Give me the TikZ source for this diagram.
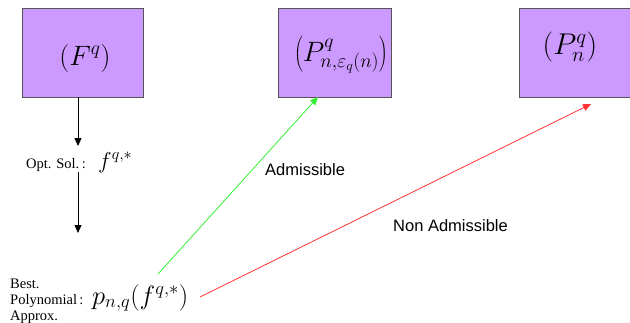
\documentclass[tikz,border=0pt]{standalone}
\usepackage{fix-cm}
\usepackage{fontspec}
\setmainfont{Liberation Serif}
\newfontfamily\arialfont{Liberation Sans}
\usetikzlibrary{arrows.meta}
\definecolor{boxfill}{HTML}{CC99FF}
\definecolor{boxline}{HTML}{555555}
\definecolor{admgreen}{HTML}{33EE33}
\definecolor{admred}{HTML}{FF3333}
\tikzset{
  probbox/.style={draw=boxline, line width=1pt, fill=boxfill},
  mathbig/.style={inner sep=0pt, font=\fontsize{28}{32}\selectfont},
  lbl/.style={inner sep=0pt, font=\fontsize{14.5}{17}\selectfont},
  sanslbl/.style={inner sep=0pt, anchor=base west, font=\arialfont\fontsize{16.5}{19}\selectfont},
  arr/.style={-{Triangle[length=8pt,width=7pt]}, line width=0.8pt},
}
\begin{document}
\begin{tikzpicture}[x=1pt,y=-1pt]
\useasboundingbox (0,0) rectangle (630,322);
% boxes
\draw[probbox] (22,8) rectangle (143,97);
\draw[probbox] (278,8) rectangle (391,97);
\draw[probbox] (519,8) rectangle (640,97);
\coordinate (b1s) at (78,97);
\node[mathbig] (t1) at (85,58) {$(F^q)$};
\node[mathbig, font=\fontsize{28}{32}\selectfont] (t2) at (341,55) {$\left(P^q_{n,\varepsilon_q(n)}\right)$};
\node[mathbig, font=\fontsize{30}{34}\selectfont] (t3) at (570,47) {$(P^q_n)$};
% opt sol
\node[lbl, anchor=base east] (opt) at (86,168) {Opt. Sol.\,:};
\node[inner sep=0pt, anchor=base west, font=\fontsize{23}{27}\selectfont] (fq) at (98,168) {$f^{q,*}$};
\coordinate (a1end) at (78,146);
\coordinate (a2start) at (78,172);
\coordinate (a2end) at (78,233);
\draw[arr] (b1s) -- (a1end);
\draw[arr] (a2start) -- (a2end);
% best poly
\node[lbl, anchor=base west] (best) at (10,288) {Best.};
\node[lbl, anchor=base west] (poly) at (10,304) {Polynomial\,:};
\node[lbl, anchor=base west] (appr) at (10,320) {Approx.};
\node[inner sep=0pt, anchor=base west, font=\fontsize{26.5}{30}\selectfont] (pnq) at (92,304) {$p_{n,q}(f^{q,*})$};
% admissible arrows
\coordinate (gs) at (158,274);
\coordinate (gt) at (318,97);
\coordinate (rs) at (200,297);
\coordinate (rt) at (591,104);
\draw[arr, admgreen] (gs) -- (gt);
\draw[arr, admred] (rs) -- (rt);
\node[sanslbl] (adm) at (265,175) {Admissible};
\node[sanslbl] (nadm) at (393,231) {Non Admissible};
\end{tikzpicture}
\end{document}
